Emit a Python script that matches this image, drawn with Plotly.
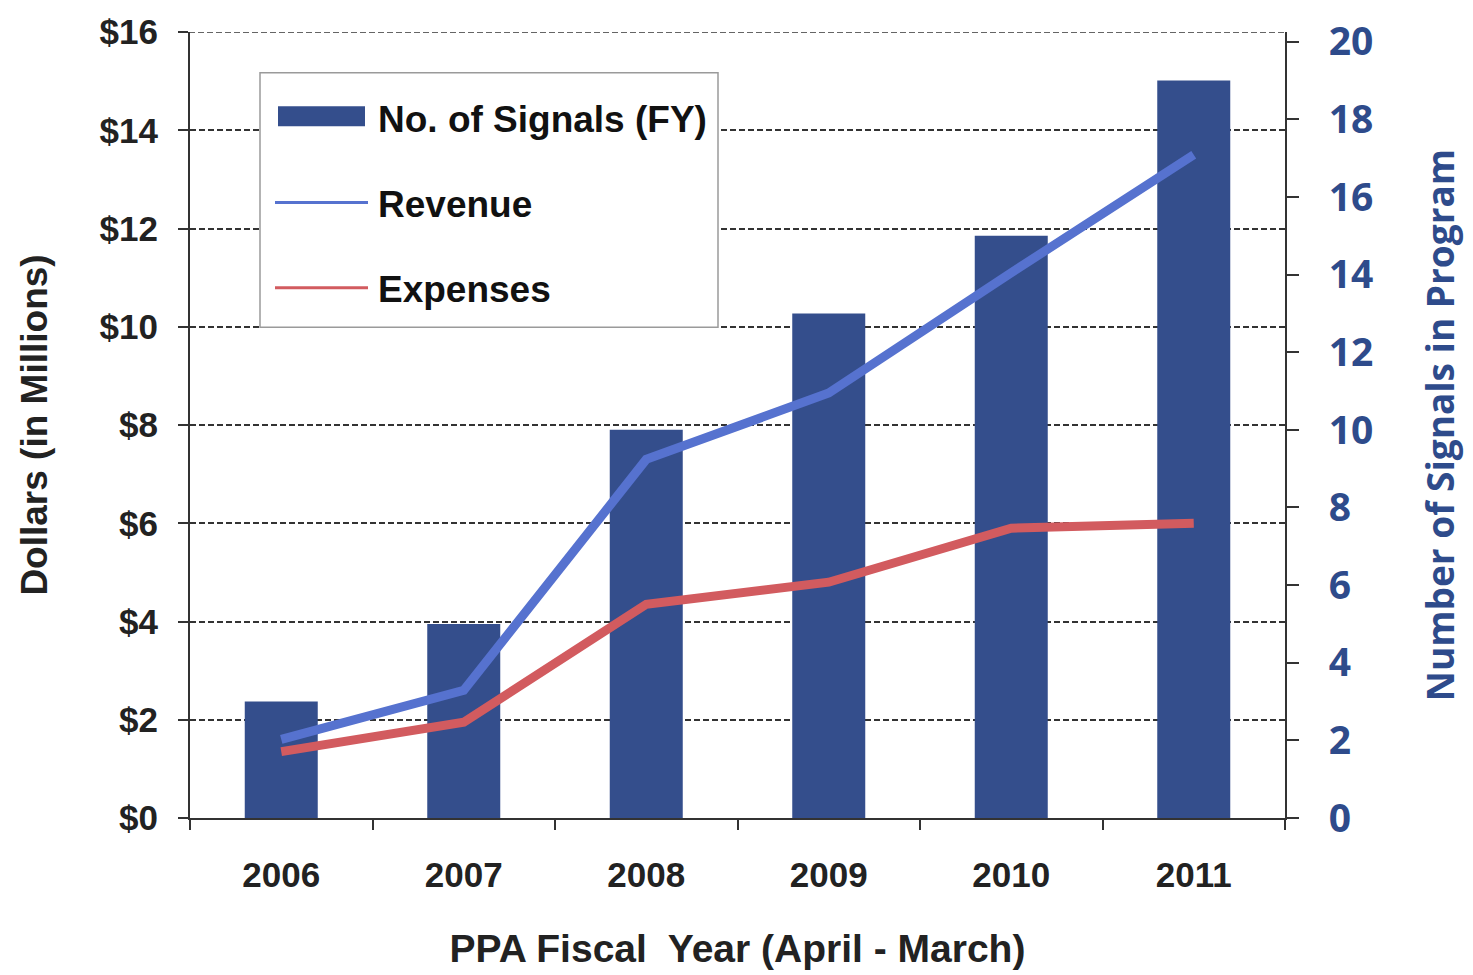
import plotly.graph_objects as go

# ---- data -------------------------------------------------------------
years = ["2006", "2007", "2008", "2009", "2010", "2011"]
signals = [3, 5, 10, 13, 15, 19]                 # number of signals (right axis)
revenue = [1.6, 2.6, 7.3, 8.65, 11.1, 13.5]      # $ millions (left axis)
expenses = [1.35, 1.95, 4.35, 4.8, 5.9, 6.0]     # $ millions (left axis)

dollar_ticks = [0, 2, 4, 6, 8, 10, 12, 14, 16]
dollar_labels = ["$0", "$2", "$4", "$6", "$8", "$10", "$12", "$14", "$16"]
signal_ticks = [0, 2, 4, 6, 8, 10, 12, 14, 16, 18, 20]

# ---- style ------------------------------------------------------------
NAVY = "#344E8C"
REV_BLUE = "#5672CF"
EXP_RED = "#D25B5F"
AXIS_TXT = "#2E4B8B"
DARK = "#222222"
LINE = "#333333"

W, H = 1473, 975
PL, PR, PT, PB = 190, 1285, 27, 820   # plot box in pixels


def px(x):
    return (x - PL) / (PR - PL)


def py(y):
    return (PB - y) / (PB - PT)


fig = go.Figure()

fig.add_trace(go.Bar(
    x=years, y=signals, name="No. of Signals (FY)",
    marker=dict(color=NAVY, line=dict(width=0)),
    width=0.4, yaxis="y", showlegend=False,
))
fig.add_trace(go.Scatter(
    x=years, y=revenue, name="Revenue", mode="lines",
    line=dict(color=REV_BLUE, width=9), yaxis="y2", showlegend=False,
))
fig.add_trace(go.Scatter(
    x=years, y=expenses, name="Expenses", mode="lines",
    line=dict(color=EXP_RED, width=9), yaxis="y2", showlegend=False,
))

bold_sans = "Liberation Sans, Arial, sans-serif"
narrow = "Liberation Sans Narrow, Arial Narrow, Liberation Sans, sans-serif"
calib = "Open Sans, Lato, sans-serif"

fig.update_layout(
    width=W, height=H,
    margin=dict(l=PL, r=W - PR, t=PT, b=H - PB),
    paper_bgcolor="white", plot_bgcolor="white",
    bargap=0.6,
    xaxis=dict(
        type="category",
        showline=True, linecolor=LINE, linewidth=2,
        ticks="outside", tickson="boundaries", ticklen=10, tickcolor=LINE, tickwidth=2,
        tickfont=dict(family=bold_sans, size=35, color=DARK, weight="bold"),
        ticklabelstandoff=25,
        showgrid=False,
        title=dict(text="PPA Fiscal  Year (April - March)",
                   font=dict(family=narrow, size=39, color=DARK, weight="bold"),
                   standoff=42),
    ),
    yaxis=dict(
        side="right", range=[0, 20.25],
        tickvals=signal_ticks,
        showgrid=False, zeroline=False,
        showline=True, linecolor=LINE, linewidth=2,
        ticks="outside", ticklen=12, tickcolor=LINE, tickwidth=2,
        tickfont=dict(family=calib, size=39, color=AXIS_TXT, weight="bold"),
        ticklabelstandoff=22,
        title=dict(text="Number of Signals in Program",
                   font=dict(family=calib, size=37, color=AXIS_TXT, weight="bold"),
                   standoff=56),
    ),
    yaxis2=dict(
        overlaying="y", side="left", range=[0, 16],
        tickvals=dollar_ticks, ticktext=dollar_labels,
        showgrid=True, gridcolor=LINE, gridwidth=1.5, griddash="6px,3px",
        zeroline=False,
        showline=True, linecolor=LINE, linewidth=2,
        ticks="outside", ticklen=10, tickcolor=LINE, tickwidth=2,
        tickfont=dict(family=bold_sans, size=35, color=DARK, weight="bold"),
        ticklabelstandoff=13,
        title=dict(text="Dollars (in Millions)",
                   font=dict(family=bold_sans, size=37, color=DARK, weight="bold"),
                   standoff=41),
    ),
)

# ---- top gridline and legend box -----------------------------------------
shapes = [
    dict(type="line", xref="paper", yref="y2",
         x0=-10 / (PR - PL), x1=1, y0=dollar_ticks[-1], y1=dollar_ticks[-1],
         line=dict(color=LINE, width=1.5, dash="6px,3px"), layer="below"),
    dict(type="rect", xref="paper", yref="paper",
         x0=px(260), x1=px(718), y0=py(325), y1=py(68),
         fillcolor="white", line=dict(color="#9A9A9A", width=1.5)),
    dict(type="rect", xref="paper", yref="paper",
         x0=px(278), x1=px(365), y0=py(122), y1=py(102),
         fillcolor=NAVY, line=dict(width=0)),
    dict(type="line", xref="paper", yref="paper",
         x0=px(275), x1=px(368), y0=py(199), y1=py(199),
         line=dict(color=REV_BLUE, width=3)),
    dict(type="line", xref="paper", yref="paper",
         x0=px(275), x1=px(368), y0=py(285), y1=py(285),
         line=dict(color=EXP_RED, width=3)),
]
legend_items = [("No. of Signals (FY)", 115), ("Revenue", 201), ("Expenses", 287)]
annotations = [
    dict(text=t, xref="paper", yref="paper", x=px(376), y=py(yy),
         xanchor="left", yanchor="middle", showarrow=False,
         font=dict(family=bold_sans, size=37, color="#111111", weight="bold"))
    for t, yy in legend_items
]
fig.update_layout(shapes=shapes, annotations=annotations)

fig.write_html("out.html")
